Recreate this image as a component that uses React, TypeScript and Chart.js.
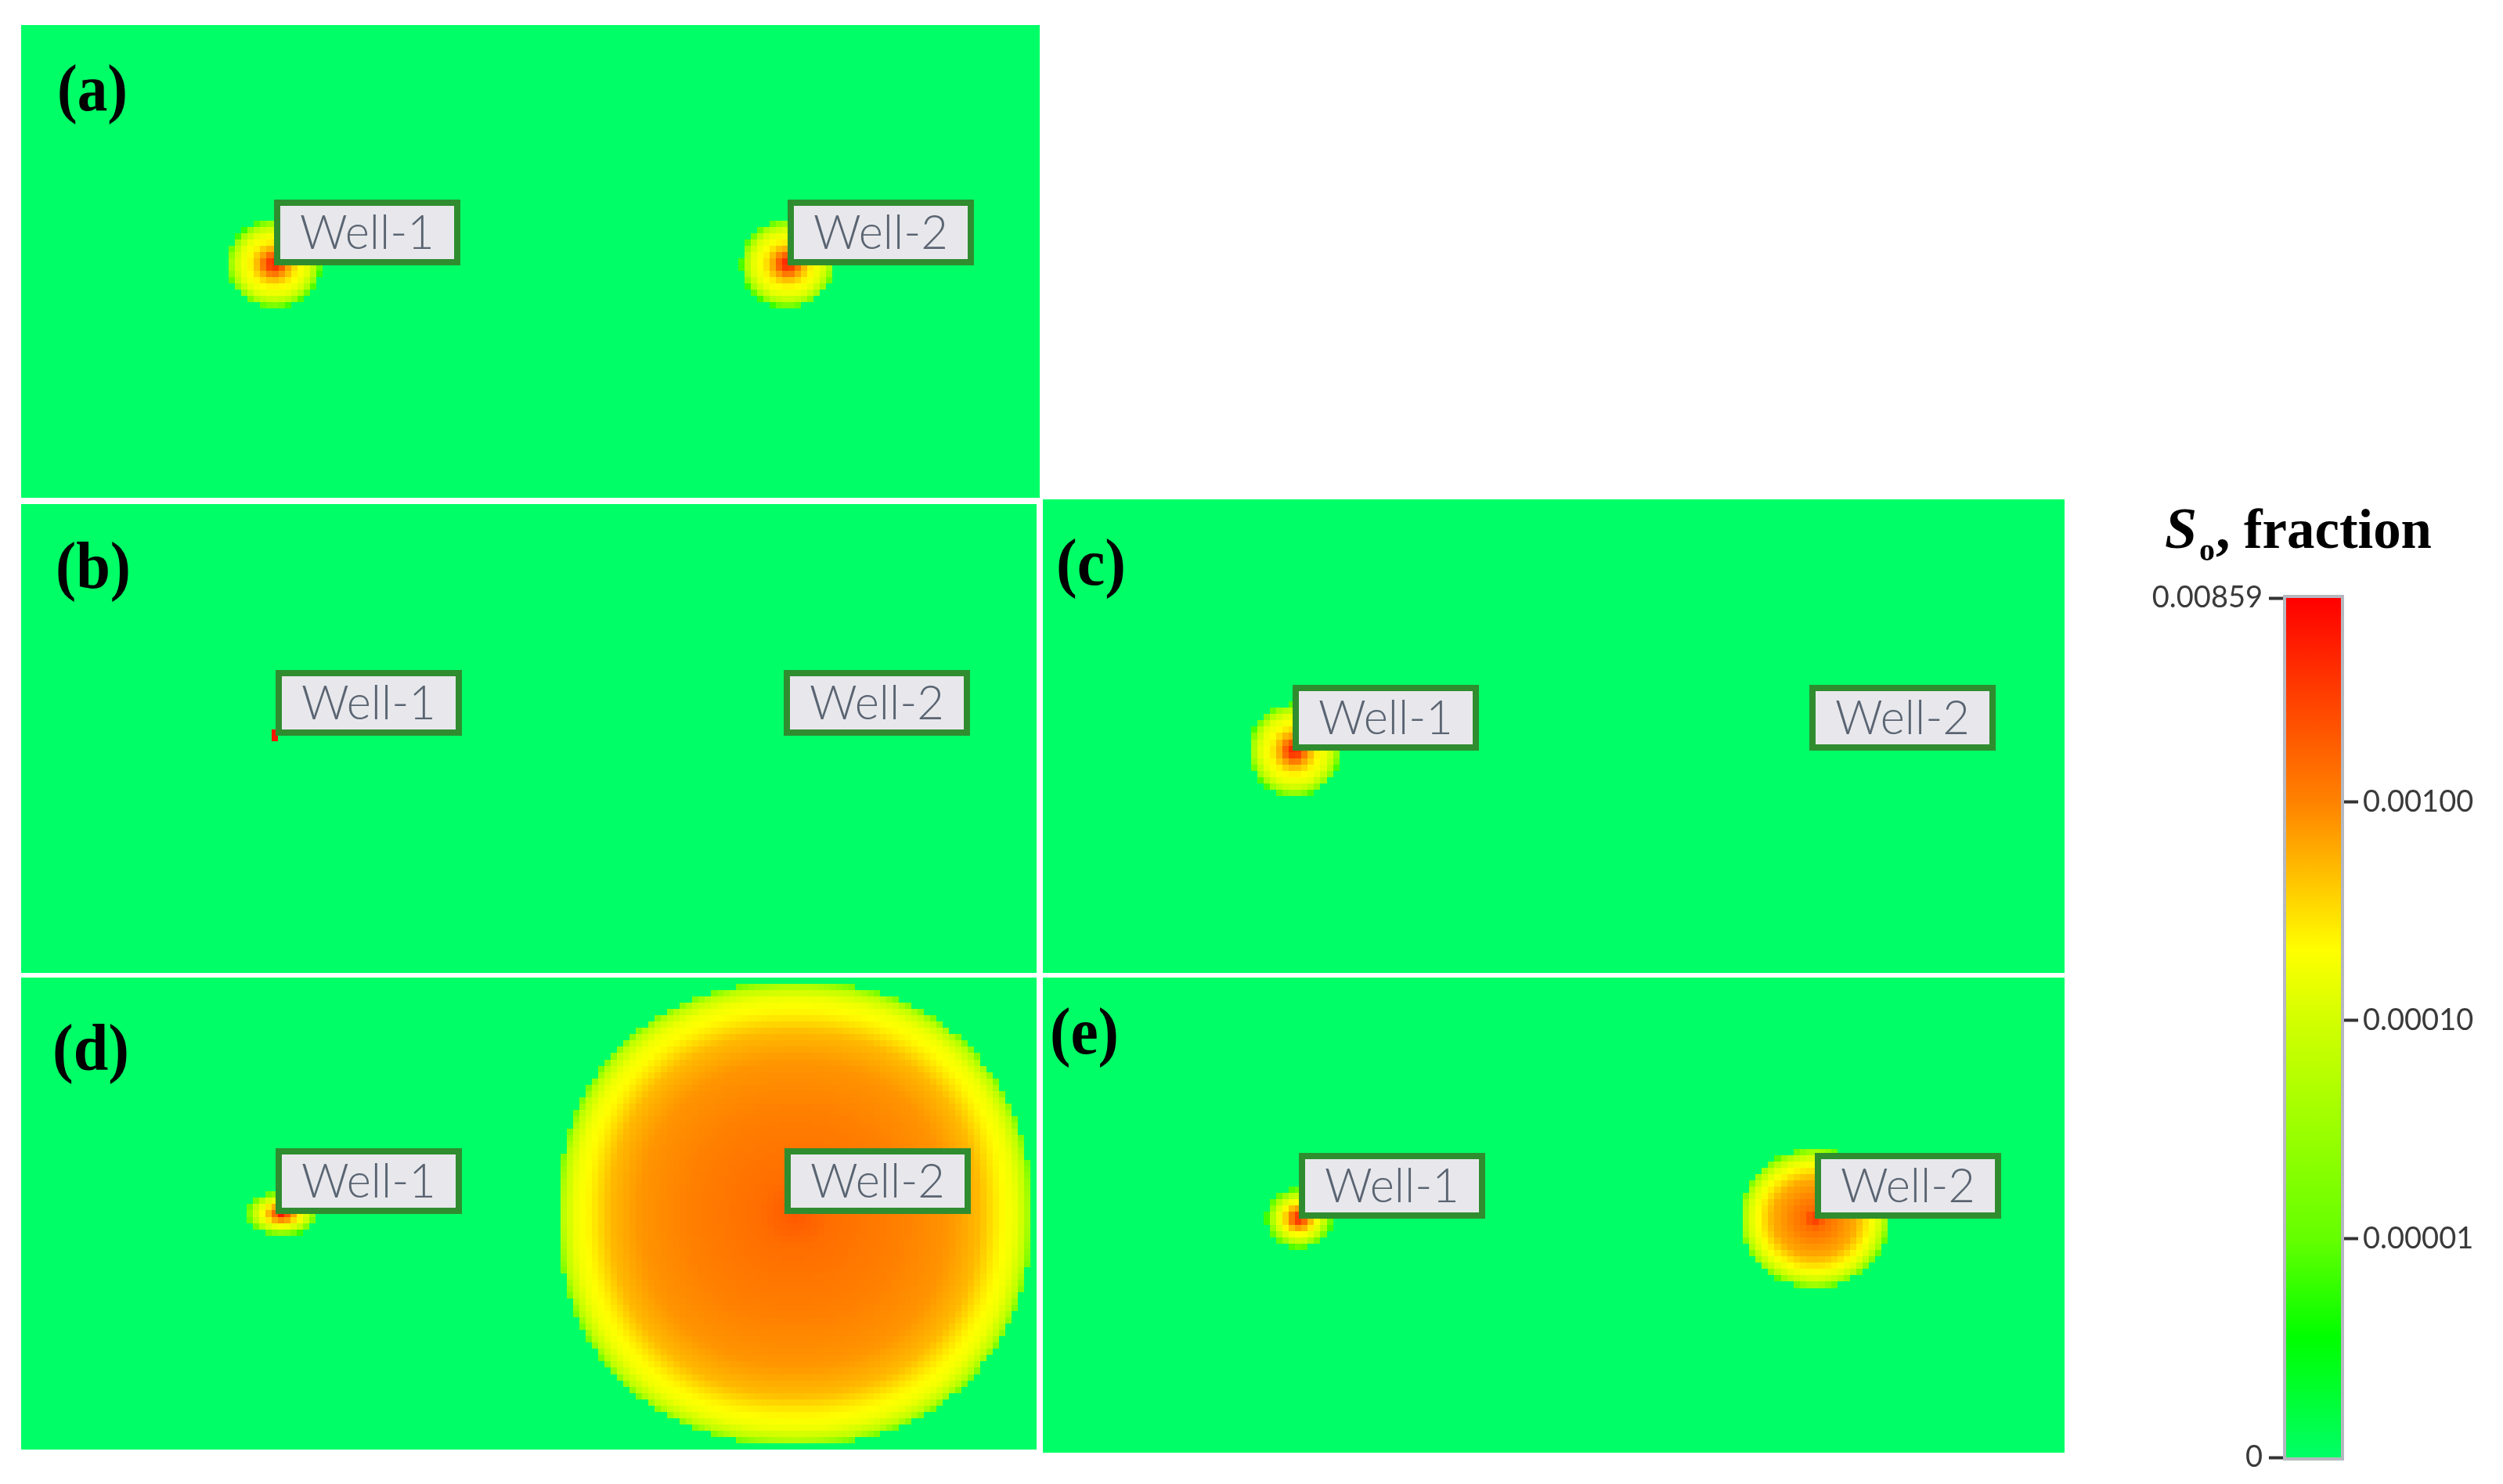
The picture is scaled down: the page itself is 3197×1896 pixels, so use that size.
import React, { useEffect, useRef } from 'react';
import { Chart, registerables } from 'chart.js';

Chart.register(...registerables);

// ---------------- data ----------------
const PANEL_LETTERS = ['(a)', '(b)', '(c)', '(d)', '(e)'];
const WELL_NAMES = ['Well-1', 'Well-2'];
// well positions inside each panel (field metres, y measured from top)
const WELL1_X = [323, 326, 318, 326, 326];
const WELL2_X = [978, 976, 975, 977, 982];
const WELL_Y = [305, 296, 318, 300, 304];

const DOMAIN_X = 1300;
const DOMAIN_Y = 600;
const NX = 162;
const NY = 75;

// oil plumes
const PLUME_PANEL = [0, 0, 1, 2, 3, 3, 4, 4];
const PLUME_WELL = [0, 1, 0, 0, 0, 1, 0, 1];
const PLUME_DX = [0, 0, 0, 2, 8, 13, 0, 0];
const PLUME_DY = [-2, -2, 0, 0, 0, 0, 0, 0];
const PLUME_RX = [60, 60, 7, 58, 46, 303, 42, 95];
const PLUME_RY = [56, 56, 7, 59, 28, 294, 38, 88];
const PLUME_SHAPE = [2, 2, 2, 2, 2, 2.2, 2, 2];
const PLUME_PROFILE = ['small', 'small', 'dot', 'small', 'tiny', 'large', 'tiny', 'mid'];

// radial saturation profiles (normalised radius -> So)
const PROFILE_SMALL_R = [0, 0.15, 0.3, 0.5, 0.75, 0.9, 1.0];
const PROFILE_SMALL_SO = [0.0065, 0.0025, 0.0007, 0.00025, 0.00013, 0.00004, 0.000006];
const PROFILE_TINY_R = [0, 0.2, 0.45, 0.75, 1.0];
const PROFILE_TINY_SO = [0.007, 0.0015, 0.0003, 0.00008, 0.000006];
const PROFILE_DOT_R = [0, 1.0];
const PROFILE_DOT_SO = [0.0085, 0.005];
const PROFILE_MID_R = [0, 0.15, 0.35, 0.55, 0.72, 0.86, 0.95, 1.0];
const PROFILE_MID_SO = [0.004, 0.0014, 0.0009, 0.0006, 0.00025, 0.00012, 0.00004, 0.000008];
const PROFILE_LARGE_R = [0, 0.15, 0.4, 0.65, 0.78, 0.86, 0.93, 0.975, 1.0];
const PROFILE_LARGE_SO = [0.002, 0.0014, 0.0011, 0.0008, 0.0005, 0.00025, 0.00016, 0.00007, 0.000015];

// colour bar
const SO_MIN = 0.000001; // labelled "0"
const SO_MAX = 0.00859;
const CB_LEFT_TICKS = [0.000001, 0.00859];
const CB_LEFT_LABELS = ['0', '0.00859'];
const CB_RIGHT_TICKS = [0.00001, 0.0001, 0.001];
const CB_RIGHT_LABELS = ['0.00001', '0.00010', '0.00100'];
const CMAP_T = [0, 0.14, 0.254, 0.508, 0.59, 0.763, 1];
const CMAP_RGB = [
  [0, 255, 102],
  [0, 255, 0],
  [100, 255, 0],
  [210, 255, 0],
  [255, 255, 0],
  [255, 130, 0],
  [255, 0, 0],
];

// ---------------- layout ----------------
const PANEL_RECTS = [
  { x: 27, y: 32, w: 1301, h: 604 },
  { x: 27, y: 644, w: 1297, h: 599 },
  { x: 1332, y: 638, w: 1305, h: 605 },
  { x: 27, y: 1249, w: 1297, h: 603 },
  { x: 1332, y: 1249, w: 1305, h: 607 },
];
const LETTER_POS = [
  { dx: 46, dy: 51, w: 90 },
  { dx: 44, dy: 49, w: 96 },
  { dx: 17, dy: 51, w: 89 },
  { dx: 40, dy: 60, w: 98 },
  { dx: 9, dy: 39, w: 88 },
];
const CB_CANVAS = { x: 2650, y: 560, w: 547, h: 1336 };

const PROFILES: Record<string, number[][]> = {
  small: [PROFILE_SMALL_R, PROFILE_SMALL_SO],
  tiny: [PROFILE_TINY_R, PROFILE_TINY_SO],
  dot: [PROFILE_DOT_R, PROFILE_DOT_SO],
  mid: [PROFILE_MID_R, PROFILE_MID_SO],
  large: [PROFILE_LARGE_R, PROFILE_LARGE_SO],
};

const SERIF = '"Liberation Serif", "Times New Roman", serif';

function soToT(v: number) {
  if (v <= SO_MIN) return 0;
  const t = (Math.log10(v) - Math.log10(SO_MIN)) / (Math.log10(SO_MAX) - Math.log10(SO_MIN));
  return Math.max(0, Math.min(1, t));
}

function rgbAt(t: number) {
  for (let i = 0; i < CMAP_T.length - 1; i++) {
    if (t >= CMAP_T[i] && t <= CMAP_T[i + 1]) {
      const f = (t - CMAP_T[i]) / (CMAP_T[i + 1] - CMAP_T[i]);
      const a = CMAP_RGB[i];
      const b = CMAP_RGB[i + 1];
      return `rgb(${Math.round(a[0] + (b[0] - a[0]) * f)},${Math.round(a[1] + (b[1] - a[1]) * f)},${Math.round(a[2] + (b[2] - a[2]) * f)})`;
    }
  }
  const c = CMAP_RGB[CMAP_RGB.length - 1];
  return `rgb(${c[0]},${c[1]},${c[2]})`;
}

function fieldValue(panel: number, x: number, y: number) {
  let best = 0;
  for (let k = 0; k < PLUME_PANEL.length; k++) {
    if (PLUME_PANEL[k] !== panel) continue;
    const wx = (PLUME_WELL[k] === 0 ? WELL1_X : WELL2_X)[panel] + PLUME_DX[k];
    const wy = WELL_Y[panel] + PLUME_DY[k];
    const p = PLUME_SHAPE[k];
    const dx = Math.abs(x - wx) / PLUME_RX[k];
    const dy = Math.abs(y - wy) / PLUME_RY[k];
    const d = Math.pow(Math.pow(dx, p) + Math.pow(dy, p), 1 / p);
    if (d > 1) continue;
    const [R, S] = PROFILES[PLUME_PROFILE[k]];
    let v = S[S.length - 1];
    for (let i = 0; i < R.length - 1; i++) {
      if (d >= R[i] && d <= R[i + 1]) {
        const f = (d - R[i]) / (R[i + 1] - R[i]);
        v = Math.pow(10, Math.log10(S[i]) * (1 - f) + Math.log10(S[i + 1]) * f);
        break;
      }
    }
    if (v > best) best = v;
  }
  return best;
}

function drawFitted(ctx: CanvasRenderingContext2D, text: string, x: number, y: number, targetW: number, align: string) {
  const w = ctx.measureText(text).width;
  const s = targetW / w;
  ctx.save();
  ctx.translate(align === 'center' ? x - targetW / 2 : x, y);
  ctx.scale(s, 1);
  ctx.textAlign = 'left';
  ctx.textBaseline = 'alphabetic';
  ctx.fillText(text, 0, 0);
  ctx.restore();
}

function Panel({ idx }: { idx: number }) {
  const ref = useRef<HTMLCanvasElement | null>(null);
  const rect = PANEL_RECTS[idx];
  useEffect(() => {
    const fieldPlugin = {
      id: 'field' + idx,
      beforeDatasetsDraw(chart: any) {
        const { ctx, chartArea } = chart;
        const xs = chart.scales.x;
        const ys = chart.scales.y;
        ctx.save();
        ctx.fillStyle = rgbAt(0);
        ctx.fillRect(chartArea.left, chartArea.top, chartArea.right - chartArea.left, chartArea.bottom - chartArea.top);
        const cw = DOMAIN_X / NX;
        const ch = DOMAIN_Y / NY;
        for (let i = 0; i < NX; i++) {
          for (let j = 0; j < NY; j++) {
            const v = fieldValue(idx, (i + 0.5) * cw, (j + 0.5) * ch);
            if (v <= 0) continue;
            const x0 = Math.round(xs.getPixelForValue(i * cw));
            const x1 = Math.round(xs.getPixelForValue((i + 1) * cw));
            const y0 = Math.round(ys.getPixelForValue(j * ch));
            const y1 = Math.round(ys.getPixelForValue((j + 1) * ch));
            ctx.fillStyle = rgbAt(soToT(v));
            ctx.fillRect(x0, Math.min(y0, y1), x1 - x0, Math.abs(y1 - y0));
          }
        }
        ctx.restore();
      },
      afterDatasetsDraw(chart: any) {
        const { ctx, chartArea } = chart;
        const meta = chart.getDatasetMeta(0);
        ctx.save();
        meta.data.forEach((el: any, i: number) => {
          const bw = 238;
          const bh = 84;
          const left = Math.round(el.x);
          const top = Math.round(el.y) - bh;
          ctx.fillStyle = '#E8E8EC';
          ctx.fillRect(left, top, bw, bh);
          ctx.strokeStyle = '#2F8D2F';
          ctx.lineWidth = 8;
          ctx.strokeRect(left + 4, top + 4, bw - 8, bh - 8);
          ctx.fillStyle = '#5A6472';
          ctx.font = '300 62px Lato, "Open Sans", sans-serif';
          drawFitted(ctx, WELL_NAMES[i], left + bw / 2, top + 63, 172, 'center');
        });
        const lp = LETTER_POS[idx];
        ctx.fillStyle = '#000';
        ctx.font = `bold 84px ${SERIF}`;
        drawFitted(ctx, PANEL_LETTERS[idx], chartArea.left + lp.dx, chartArea.top + lp.dy + 58, lp.w, 'left');
        ctx.restore();
      },
    };
    const chart = new Chart(ref.current as HTMLCanvasElement, {
      type: 'scatter',
      data: {
        datasets: [
          {
            data: [
              { x: WELL1_X[idx], y: WELL_Y[idx] },
              { x: WELL2_X[idx], y: WELL_Y[idx] },
            ],
            pointRadius: 0,
          },
        ],
      },
      options: {
        responsive: false,
        animation: false,
        events: [],
        layout: { padding: 0 },
        plugins: { legend: { display: false }, tooltip: { enabled: false } },
        scales: {
          x: { type: 'linear', min: 0, max: DOMAIN_X, display: false },
          y: { type: 'linear', min: 0, max: DOMAIN_Y, reverse: true, display: false },
        },
      },
      plugins: [fieldPlugin],
    } as any);
    return () => chart.destroy();
  }, [idx]);
  return (
    <canvas
      ref={ref}
      width={rect.w}
      height={rect.h}
      style={{ position: 'absolute', left: rect.x, top: rect.y, width: rect.w, height: rect.h }}
    />
  );
}

function ColorBar() {
  const ref = useRef<HTMLCanvasElement | null>(null);
  useEffect(() => {
    const tickFont = { family: 'Lato, "Open Sans", sans-serif', size: 38 };
    const framePlugin = {
      id: 'cbframe',
      afterDatasetsDraw(chart: any) {
        const { ctx, chartArea } = chart;
        ctx.save();
        ctx.strokeStyle = '#B6B8C0';
        ctx.lineWidth = 4;
        ctx.strokeRect(chartArea.left - 2, chartArea.top - 2, chartArea.right - chartArea.left + 4, chartArea.bottom - chartArea.top + 4);
        ctx.restore();
      },
      afterDraw(chart: any) {
        const { ctx } = chart;
        const ox = CB_CANVAS.x;
        const oy = CB_CANVAS.y;
        ctx.save();
        ctx.fillStyle = '#000';
        ctx.textBaseline = 'alphabetic';
        ctx.textAlign = 'left';
        ctx.font = `italic bold 74px ${SERIF}`;
        ctx.fillText('S', 2765 - ox, 700 - oy);
        ctx.font = `bold 40px ${SERIF}`;
        ctx.fillText('o', 2809 - ox, 716 - oy);
        ctx.font = `bold 74px ${SERIF}`;
        ctx.fillText(',', 2830 - ox, 700 - oy);
        ctx.font = `bold 72px ${SERIF}`;
        drawFitted(ctx, 'fraction', 2866 - ox, 700 - oy, 240, 'left');
        ctx.restore();
      },
    };
    const axisCommon = {
      type: 'logarithmic',
      min: SO_MIN,
      max: SO_MAX,
      grid: { drawOnChartArea: false, drawTicks: true, tickLength: 22, tickColor: '#333', tickWidth: 4 },
      border: { display: false },
    };
    const chart = new Chart(ref.current as HTMLCanvasElement, {
      type: 'bar',
      data: {
        labels: ['So'],
        datasets: [
          {
            data: [[SO_MIN, SO_MAX]],
            borderWidth: 0,
            barPercentage: 1,
            categoryPercentage: 1,
            yAxisID: 'y',
            backgroundColor: (c: any) => {
              const ch = c.chart;
              const ys = ch.scales.y;
              if (!ch.chartArea || !ys) return 'rgba(0,0,0,0)';
              const g = ch.ctx.createLinearGradient(0, ys.getPixelForValue(SO_MIN), 0, ys.getPixelForValue(SO_MAX));
              CMAP_T.forEach((t) => g.addColorStop(t, rgbAt(t)));
              return g;
            },
          },
        ],
      },
      options: {
        responsive: false,
        animation: false,
        events: [],
        layout: { padding: { top: 204, bottom: 34, left: 0, right: 0 } },
        plugins: { legend: { display: false }, tooltip: { enabled: false } },
        scales: {
          x: { display: false },
          y: {
            ...axisCommon,
            position: 'left',
            afterFit: (s: any) => {
              s.width = 270;
            },
            afterBuildTicks: (s: any) => {
              s.ticks = CB_LEFT_TICKS.map((v) => ({ value: v }));
            },
            ticks: {
              autoSkip: false,
              padding: 8,
              color: '#3A3A3A',
              font: tickFont,
              callback: (_v: any, i: number) => CB_LEFT_LABELS[i],
            },
          },
          y2: {
            ...axisCommon,
            position: 'right',
            afterFit: (s: any) => {
              s.width = 207;
            },
            afterBuildTicks: (s: any) => {
              s.ticks = CB_RIGHT_TICKS.map((v) => ({ value: v }));
            },
            ticks: {
              autoSkip: false,
              padding: 6,
              color: '#3A3A3A',
              font: tickFont,
              callback: (_v: any, i: number) => CB_RIGHT_LABELS[i],
            },
          },
        },
      },
      plugins: [framePlugin],
    } as any);
    return () => chart.destroy();
  }, []);
  return (
    <canvas
      ref={ref}
      width={CB_CANVAS.w}
      height={CB_CANVAS.h}
      style={{ position: 'absolute', left: CB_CANVAS.x, top: CB_CANVAS.y, width: CB_CANVAS.w, height: CB_CANVAS.h }}
    />
  );
}

export default function App() {
  return (
    <div
      style={{
        position: 'absolute',
        left: 0,
        top: 0,
        width: 3197,
        height: 1896,
        background: '#fff',
        overflow: 'hidden',
      }}
    >
      {PANEL_RECTS.map((_, i) => (
        <Panel key={i} idx={i} />
      ))}
      <ColorBar />
    </div>
  );
}
